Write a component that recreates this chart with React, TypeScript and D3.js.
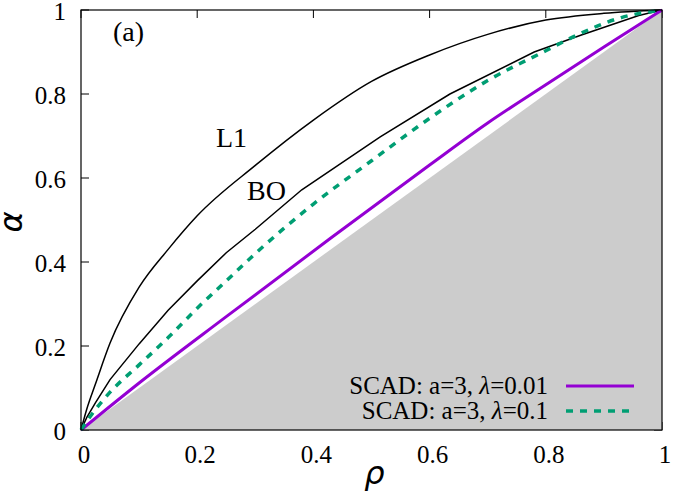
import * as d3 from 'd3';

// curves of alpha vs rho
const l1Rho = [0, 0.01, 0.025, 0.05, 0.1, 0.15, 0.2, 0.3, 0.4, 0.5, 0.6, 0.7, 0.8, 0.9, 1];
const l1Alpha = [0, 0.05, 0.11, 0.207, 0.34, 0.43, 0.51, 0.63, 0.738, 0.83, 0.893, 0.942, 0.976, 0.992, 1];

const boRho = [0, 0.01, 0.025, 0.05, 0.1, 0.15, 0.2, 0.25, 0.3, 0.38, 0.515, 0.635, 0.78, 0.86, 0.96, 1];
const boAlpha = [0, 0.03, 0.065, 0.12, 0.205, 0.285, 0.355, 0.422, 0.478, 0.572, 0.698, 0.8, 0.9, 0.94, 0.987, 1];

const scad01Rho = [0, 0.02, 0.05, 0.1, 0.15, 0.2, 0.25, 0.3, 0.4, 0.5, 0.6, 0.7, 0.8, 0.85, 0.93, 1];
const scad01Alpha = [0, 0.04, 0.09, 0.155, 0.22, 0.29, 0.355, 0.42, 0.538, 0.641, 0.742, 0.832, 0.903, 0.938, 0.982, 1];

const scad001Rho = [0, 0.1, 0.25, 0.43, 0.6, 0.7, 0.8, 0.9, 1];
const scad001Alpha = [0, 0.112, 0.27, 0.457, 0.631, 0.731, 0.822, 0.912, 1];

const ticks = [0, 0.2, 0.4, 0.6, 0.8, 1];
const tickLabels = ['0', '0.2', '0.4', '0.6', '0.8', '1'];

const legendLabels = ['0.01', '0.1'];

const W = 673;
const H = 496;
const left = 81;
const right = 662;
const top = 10;
const bottom = 430;

const serif = '"Liberation Serif", "Times New Roman", serif';

export default function App() {
  const x = d3.scaleLinear().domain([0, 1]).range([left, right]);
  const y = d3.scaleLinear().domain([0, 1]).range([bottom, top]);

  const zip = (xs: number[], ys: number[]) => xs.map((v, i) => [v, ys[i]] as [number, number]);

  const smooth = d3.line<[number, number]>().x(d => x(d[0])).y(d => y(d[1])).curve(d3.curveMonotoneX);
  const straight = d3.line<[number, number]>().x(d => x(d[0])).y(d => y(d[1]));

  // region below the diagonal alpha = rho
  const shade = d3.area<number>().x(d => x(d)).y0(y(0)).y1(d => y(d));

  const tickLen = 8;

  return (
    <svg width={W} height={H} style={{ position: 'absolute', left: 0, top: 0, background: '#fff' }}>
      {/* ticks, mirrored on all sides */}
      <g stroke="#000" strokeWidth={1}>
        {ticks.map(t => (
          <g key={'t' + t}>
            <line x1={left} x2={left + tickLen} y1={y(t)} y2={y(t)} />
            <line x1={right} x2={right - tickLen} y1={y(t)} y2={y(t)} />
            <line x1={x(t)} x2={x(t)} y1={bottom} y2={bottom - tickLen} />
            <line x1={x(t)} x2={x(t)} y1={top} y2={top + tickLen} />
          </g>
        ))}
      </g>

      <path d={shade([0, 1]) || ''} fill="#cccccc" />

      <path d={smooth(zip(l1Rho, l1Alpha)) || ''} fill="none" stroke="#000" strokeWidth={1.5} />
      <path d={straight(zip(boRho, boAlpha)) || ''} fill="none" stroke="#000" strokeWidth={1.5} />
      <path d={smooth(zip(scad001Rho, scad001Alpha)) || ''} fill="none" stroke="#9400d3" strokeWidth={3} />
      <path
        d={smooth(zip(scad01Rho, scad01Alpha)) || ''}
        fill="none"
        stroke="#009e73"
        strokeWidth={3.5}
        strokeDasharray="7,7"
      />

      <rect x={left} y={top} width={right - left} height={bottom - top} fill="none" stroke="#000" strokeWidth={1.2} />

      {/* tick labels */}
      <g fontFamily={serif} fontSize={25} fill="#000">
        {ticks.map((t, i) => (
          <text key={'y' + t} x={left - 15} y={y(t) + 1} dy="0.35em" textAnchor="end">
            {tickLabels[i]}
          </text>
        ))}
        {ticks.map((t, i) => (
          <text key={'x' + t} x={x(t) + 3} y={bottom + 33} textAnchor="middle">
            {tickLabels[i]}
          </text>
        ))}
      </g>

      {/* axis titles */}
      <text
        transform={`translate(22, ${y(0.5) + 2}) rotate(-90)`}
        textAnchor="middle"
        fontFamily='"DejaVu Sans", sans-serif'
        fontStyle="italic"
        fontSize={32}
      >
        α
      </text>
      <text
        x={x(0.5) + 3}
        y={484}
        textAnchor="middle"
        fontFamily='"DejaVu Sans", sans-serif'
        fontStyle="italic"
        fontSize={32}
      >
        ρ
      </text>

      {/* curve annotations */}
      <g fontFamily={serif} fontSize={28} fill="#000">
        <text x={113} y={41}>(a)</text>
        <text x={216} y={147}>L1</text>
        <text x={247} y={200}>BO</text>
      </g>

      {/* key */}
      <g fontFamily={serif} fontSize={25} fill="#000">
        {legendLabels.map((lab, i) => (
          <text key={lab} x={548} y={394 + i * 25} textAnchor="end">
            SCAD: a=3, <tspan fontStyle="italic">λ</tspan>={lab}
          </text>
        ))}
      </g>
      <line x1={566} x2={634} y1={386} y2={386} stroke="#9400d3" strokeWidth={3} />
      <line x1={566} x2={634} y1={411} y2={411} stroke="#009e73" strokeWidth={3.5} strokeDasharray="7,7" />
    </svg>
  );
}
